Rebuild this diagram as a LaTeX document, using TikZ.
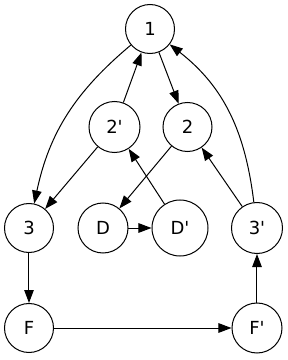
\documentclass[tikz,border=0pt]{standalone}
\usepackage{fontspec}
\newfontfamily\statefont{DejaVu Sans}
\usetikzlibrary{arrows.meta}

\begin{document}
\begin{tikzpicture}[
    x=1pt, y=1pt,
    >={Triangle[length=13pt,width=9.5pt]},
    state/.style={
        circle,
        draw,
        line width=1pt,
        inner sep=0pt,
        minimum size=#1,
        font=\fontsize{18}{21}\statefont
    },
    state/.default=49pt,
    link/.style={->, line width=1pt}
]
\useasboundingbox (0,0) rectangle (288,360);

% Top
\node[state]       (n1)  at (150,331)   {1};

% Row 2
\node[state=51pt]  (n2p) at (114.5,233) {2'};
\node[state]       (n2)  at (187.5,233) {2};

% Row 3
\node[state]       (n3)  at (29,132)    {3};
\node[state=50pt]  (nD)  at (103,132)   {D};
\node[state=56pt]  (nDp) at (180,132)   {D'};
\node[state=51pt]  (n3p) at (257,132)   {3'};

% Bottom
\node[state]       (nF)  at (29,32)     {F};
\node[state=50pt]  (nFp) at (257,32)    {F'};

% Edges
\draw[link] (n1)  to[out=220,in=78] (n3);
\draw[link] (n2p) -- (n1);
\draw[link] (n1)  -- (n2);
\draw[link] (n2p) -- (n3);
\draw[link] (n2)  -- (nD);
\draw[link] (nDp) -- (n2p);
\draw[link] (n3p) -- (n2);
\draw[link] (n3p) to[out=97,in=-38] (n1);
\draw[link] (nD)  -- (nDp);
\draw[link] (n3)  -- (nF);
\draw[link] (nF)  -- (nFp);
\draw[link] (nFp) -- (n3p);

\end{tikzpicture}
\end{document}
